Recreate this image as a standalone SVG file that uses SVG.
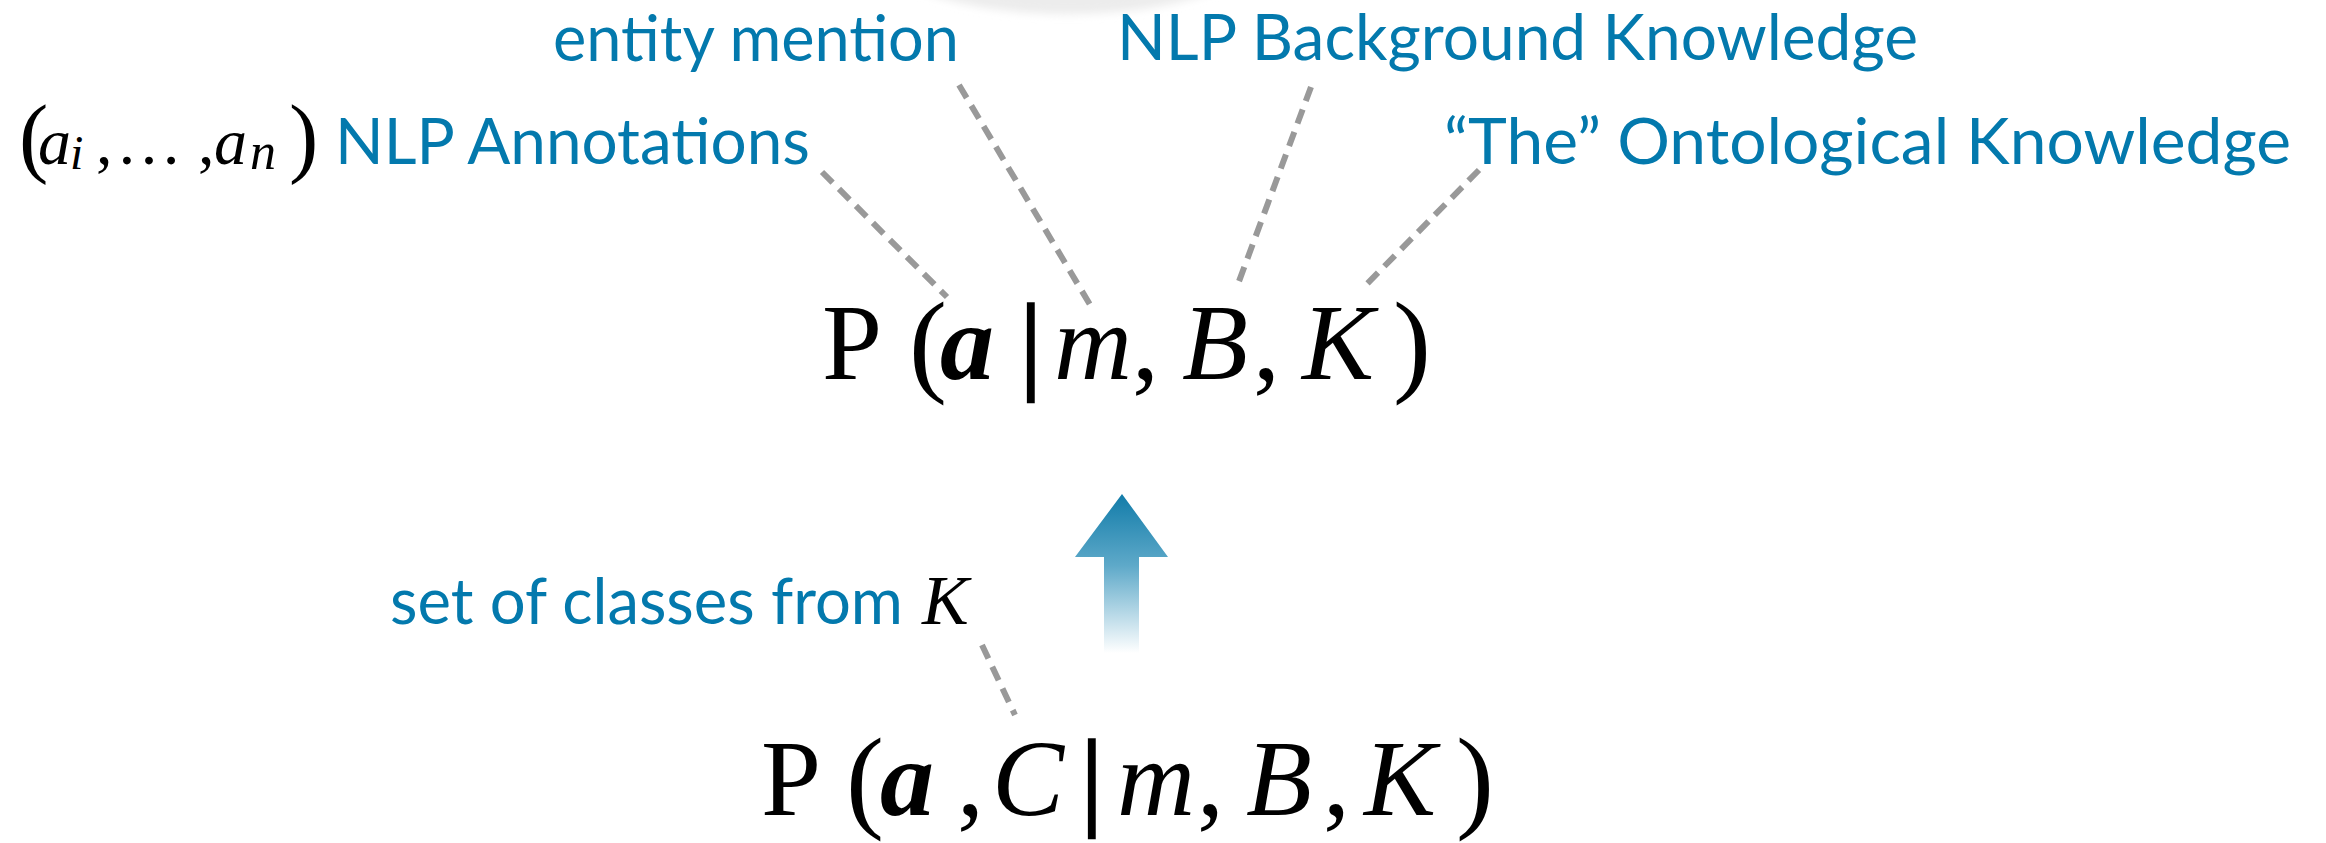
<svg xmlns="http://www.w3.org/2000/svg" width="2326" height="843" viewBox="0 0 2326 843">
<defs>
<style>
.lbl{font-family:Lato,"Open Sans",sans-serif;fill:#0379ad;font-size:63px}
.m{font-family:"Liberation Serif","Times New Roman",serif;fill:#000}
.it{font-style:italic}
.bi{font-style:italic;font-weight:bold}
.bar{stroke:#000;stroke-width:2.5}
.dash{stroke:#999;stroke-width:6;stroke-dasharray:15 9;fill:none}
</style>
<linearGradient id="ag" x1="0" y1="494" x2="0" y2="653" gradientUnits="userSpaceOnUse">
<stop offset="0" stop-color="#127ca9"/>
<stop offset="0.45" stop-color="#5ea9c9"/>
<stop offset="1" stop-color="#ffffff"/>
</linearGradient>
<filter id="soft" x="-20%" y="-50%" width="140%" height="200%">
<feGaussianBlur stdDeviation="4"/>
</filter>
</defs>
<rect width="2326" height="843" fill="#fff"/>
<ellipse cx="1068" cy="-48" rx="190" ry="62" fill="#ececec" filter="url(#soft)"/>

<g id="connectors">
<line class="dash" x1="822" y1="172" x2="947" y2="297"/>
<line class="dash" x1="959" y1="85" x2="1092" y2="308"/>
<line class="dash" x1="1311" y1="87" x2="1238" y2="284"/>
<line class="dash" x1="1479" y1="170" x2="1363" y2="288"/>
<line class="dash" x1="982" y1="645" x2="1015" y2="715"/>
<polygon id="arrow" points="1122,494 1168,557 1139,557 1139,653 1104,653 1104,557 1075,557" fill="url(#ag)"/>
</g>

<g id="label-entity-mention">
<text class="lbl" x="553" y="61" textLength="406" lengthAdjust="spacingAndGlyphs">entity mention</text>
</g>
<g id="label-background">
<text class="lbl" x="1117" y="60" textLength="801" lengthAdjust="spacingAndGlyphs">NLP Background Knowledge</text>
</g>
<g id="label-annotations">
<text class="m it" font-size="66" y="164"><tspan x="19" y="166" font-size="88" font-style="normal">(</tspan><tspan x="38" y="164">a</tspan><tspan x="70" y="169" font-size="48">i</tspan><tspan x="96" y="164" font-style="normal">,</tspan><tspan x="116" font-style="normal">…</tspan><tspan x="198" font-style="normal">,</tspan><tspan x="214">a</tspan><tspan x="250" y="169" font-size="52">n</tspan><tspan x="289" y="166" font-size="88" font-style="normal">)</tspan></text>
<text class="lbl" x="335" y="164" textLength="475" lengthAdjust="spacingAndGlyphs">NLP Annotations</text>
</g>
<g id="label-ontological">
<text class="lbl" x="1444" y="164" textLength="847" lengthAdjust="spacingAndGlyphs">“The” Ontological Knowledge</text>
</g>
<g id="label-classes">
<text class="lbl" x="390" y="624" textLength="513" lengthAdjust="spacingAndGlyphs">set of classes from</text>
<text class="m it" x="922" y="624" font-size="70">K</text>
</g>

<g id="formula-top">
<text class="m" font-size="108" y="379"><tspan x="822">P</tspan><tspan x="909" font-size="114" y="381">(</tspan><tspan x="940" y="379" class="bi">a</tspan><tspan x="1020" class="bar">|</tspan><tspan x="1054" class="it">m</tspan><tspan x="1132">,</tspan><tspan x="1182" class="it">B</tspan><tspan x="1253">,</tspan><tspan x="1302" class="it">K</tspan><tspan x="1393" font-size="114" y="381">)</tspan></text>
</g>

<g id="formula-bottom">
<text class="m" font-size="108" y="815"><tspan x="761">P</tspan><tspan x="846" font-size="114" y="817">(</tspan><tspan x="880" y="815" class="bi">a</tspan><tspan x="957">,</tspan><tspan x="992" class="it">C</tspan><tspan x="1081" class="bar">|</tspan><tspan x="1117" class="it">m</tspan><tspan x="1197">,</tspan><tspan x="1246" class="it">B</tspan><tspan x="1323">,</tspan><tspan x="1364" class="it">K</tspan><tspan x="1456" font-size="114" y="817">)</tspan></text>
</g>
</svg>
